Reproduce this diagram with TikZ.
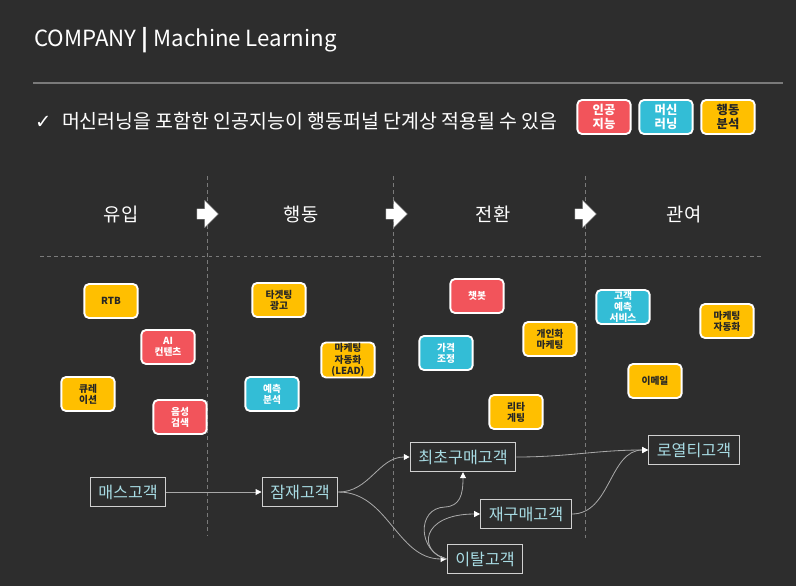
\documentclass[tikz,border=0pt]{standalone}
\usepackage{fontspec}
\setmainfont{Noto Sans CJK KR}
\newfontfamily\symfont{DejaVu Sans}
\usetikzlibrary{arrows.meta,shapes.arrows}
\definecolor{bg}{HTML}{2D2D2D}
\definecolor{aired}{HTML}{F2545B}
\definecolor{mlcyan}{HTML}{33BDD6}
\definecolor{bayellow}{HTML}{FFBF00}
\definecolor{custtext}{HTML}{A8DCE4}
\definecolor{boxline}{HTML}{D0D0D0}
\definecolor{linegray}{HTML}{A8A8A8}
\definecolor{gridgray}{HTML}{7A7A7A}

\begin{document}
\begin{tikzpicture}[x=0.03cm, y=-0.03cm,
  tag/.style={draw=white, line width=1.6pt, rounded corners=4pt, minimum width=1.6cm, minimum height=1.02cm, align=center, inner sep=1pt, font=\bfseries\fontsize{8.3}{9.6}\selectfont},
  legtag/.style={tag, font=\bfseries\fontsize{10.5}{12.2}\selectfont},
  ai/.style={fill=aired, text=white},
  ml/.style={fill=mlcyan, text=white},
  ba/.style={fill=bayellow, text=black!85},
  cust/.style={draw=boxline, line width=0.9pt, fill=bg, text=custtext, minimum height=0.88cm, inner xsep=7pt, font=\fontsize{13.8}{15}\selectfont},
  flow/.style={draw=linegray, line width=0.7pt, -{Triangle[length=5pt, width=5pt, color=white]}},
  grid/.style={draw=gridgray, dashed, line width=0.5pt},
  stage/.style={text=white, font=\fontsize{16}{18}\selectfont},
  stagearrow/.style={single arrow, fill=white, draw=gray, line width=0.3pt, minimum height=0.64cm, minimum width=0.58cm, inner xsep=3pt, inner ysep=4.3pt}
]
\fill[bg] (0,0) rectangle (796,586);
\useasboundingbox (0,0) rectangle (796,586);

% header
\node[anchor=base west, inner sep=0, text=white, font=\fontsize{19}{21}\selectfont] (title) at (34,46) {COMPANY \textbf{|} Machine Learning};
\draw[gridgray, line width=1.4pt] (33,83) -- (783,83);
\node[anchor=west, inner sep=0, text=white, font=\fontsize{16.6}{19}\selectfont] (note) at (35,121) {{\symfont ✓}\hspace{9pt}머신러닝을 포함한 인공지능이 행동퍼널 단계상 적용될 수 있음};
\node[legtag, ai] (legai) at (604,117) {인공\\지능};
\node[legtag, ml] (legml) at (666,117) {머신\\러닝};
\node[legtag, ba] (legba) at (728,117) {행동\\분석};

% funnel stages
\draw[grid] (40,256) -- (762,256);
\draw[grid] (207,176) -- (207,535);
\draw[grid] (393,176) -- (393,539);
\draw[grid] (585,176) -- (585,539);
\node[stage] (inflow) at (121,214) {유입};
\node[stage] (action) at (301,214) {행동};
\node[stage] (convert) at (493,214) {전환};
\node[stage] (engage) at (684,214) {관여};
\node[stagearrow] (arr1) at (205,214) {};
\node[stagearrow] (arr2) at (394,214) {};
\node[stagearrow] (arr3) at (583,214) {};

% applications
\node[tag, ba] (rtb) at (111,301) {RTB};
\node[tag, ai] (aicont) at (168,347) {AI\\컨텐츠};
\node[tag, ba] (curation) at (88,394) {큐레\\이션};
\node[tag, ai] (voice) at (180,417) {음성\\검색};
\node[tag, ba] (target) at (279,300) {타겟팅\\광고};
\node[tag, ba] (leadauto) at (348,360) {마케팅\\자동화\\(LEAD)};
\node[tag, ml] (predict) at (272,394) {예측\\분석};
\node[tag, ai] (chatbot) at (477,296) {챗봇};
\node[tag, ml] (price) at (446,353) {가격\\조정};
\node[tag, ba] (personal) at (550,339) {개인화\\마케팅};
\node[tag, ba] (retarget) at (516,412) {리타\\게팅};
\node[tag, ml] (custpred) at (623,307) {고객\\예측\\서비스};
\node[tag, ba] (mktauto) at (727,321) {마케팅\\자동화};
\node[tag, ba] (email) at (655,381) {이메일};

% customer flow
\node[cust] (mass) at (128,492) {매스고객};
\node[cust] (potential) at (300,492) {잠재고객};
\node[cust] (first) at (463,457) {최초구매고객};
\node[cust] (repeat) at (526,514) {재구매고객};
\node[cust] (lost) at (485,559) {이탈고객};
\node[cust] (loyal) at (694,450) {로열티고객};

\draw[flow] (mass) -- (potential);
\draw[flow] (potential.east) to[out=0, in=180] (first.west);
\draw[flow] (potential.east) to[out=0, in=180] (lost.west);
\draw[flow] (lost.west) .. controls (418,552) and (416,508) .. (445,507) .. controls (460,506) and (463,495) .. (first.south);
\draw[flow] (lost.west) .. controls (418,552) and (420,514) .. (repeat.west);
\draw[flow] (first.east) to[out=0, in=180] (loyal.west);
\draw[flow] (repeat.east) to[out=0, in=180] (loyal.west);
\end{tikzpicture}
\end{document}
